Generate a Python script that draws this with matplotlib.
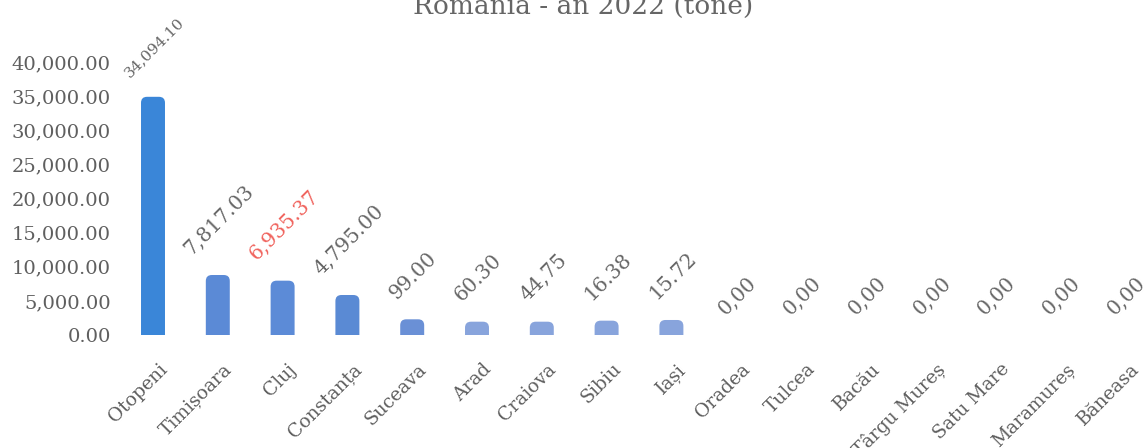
import matplotlib
matplotlib.use('Agg')
import matplotlib.pyplot as plt
from matplotlib.patches import FancyBboxPatch
from matplotlib.ticker import FuncFormatter
import matplotlib.transforms as mtrans

# data
airports = ['Otopeni', 'Timișoara', 'Cluj', 'Constanța', 'Suceava', 'Arad', 'Craiova',
            'Sibiu', 'Iași', 'Oradea', 'Tulcea', 'Bacău', 'Târgu Mureș', 'Satu Mare',
            'Maramureș', 'Băneasa']
# label values as printed on the chart
label_text = ['34,094.10', '7,817.03', '6,935.37', '4,795.00', '99.00', '60.30', '44,75',
              '16.38', '15.72', '0,00', '0,00', '0,00', '0,00', '0,00', '0,00', '0,00']
# bar heights as drawn in the picture (tone)
bar_heights = [34900, 8790, 7960, 5860, 2300, 1950, 1950, 2100, 2200, 0, 0, 0, 0, 0, 0, 0]
bar_colors = ['#3a86d8', '#5b8ad6', '#5c8bd7', '#5a8ad4', '#6a90d6', '#88a4dc', '#88a4dc',
              '#88a4dc', '#88a4dc', '#88a4dc', '#88a4dc', '#88a4dc', '#88a4dc', '#88a4dc',
              '#88a4dc', '#88a4dc']
label_colors = ['#666666'] * 16
label_colors[2] = '#f0625c'
label_sizes = [11] + [14.5] * 15
yticks = [0, 5000, 10000, 15000, 20000, 25000, 30000, 35000, 40000]

W, H = 1144, 448
fig = plt.figure(figsize=(W / 100, H / 100), dpi=100)
fig.patch.set_facecolor('white')
ax = fig.add_axes([120.6 / W, (H - 335) / H, (W - 120.6) / W, 273 / H])

x = list(range(len(airports)))
bw = 0.37
bars = ax.bar(x, bar_heights, width=bw, color=bar_colors)

# rounded bar tops (bottom part clipped at the axis)
px_x = 64.8          # pixels per category unit
px_y = 273 / 40000   # pixels per tonne
r_px = 6
aspect = px_x / px_y
for b, c in zip(bars, bar_colors):
    h = b.get_height()
    if h <= 0:
        continue
    b.set_visible(False)
    p = FancyBboxPatch((b.get_x(), -2000), b.get_width(), h + 2000,
                       boxstyle='round,pad=0,rounding_size=%f' % (r_px / px_x),
                       mutation_aspect=aspect, facecolor=c, edgecolor='none')
    ax.add_patch(p)

ax.set_xlim(-0.5, -0.5 + (W - 120.6) / px_x)
ax.set_ylim(0, 40000)
ax.set_yticks(yticks)
ax.yaxis.set_major_formatter(FuncFormatter(lambda v, p: '{:,.2f}'.format(v)))

for s in ax.spines.values():
    s.set_visible(False)
ax.tick_params(axis='y', length=0, pad=7, labelsize=14, labelcolor='#5f5f5f')
ax.tick_params(axis='x', length=0, pad=18, labelsize=13.5, labelcolor='#5f5f5f')
for lab in ax.get_yticklabels():
    lab.set_family('DejaVu Serif')

ax.set_xticks(x)
ax.set_xticklabels(airports, rotation=45, ha='right', va='top', rotation_mode='anchor',
                   family='DejaVu Serif')
off = mtrans.ScaledTranslation(5 / 100, 0, fig.dpi_scale_trans)
for lab in ax.get_xticklabels():
    lab.set_transform(lab.get_transform() + off)

for xi, h, t, c, fs in zip(x, bar_heights, label_text, label_colors, label_sizes):
    ax.annotate(t, (xi, h), xytext=(1, 12), textcoords='offset points',
                ha='center', va='bottom', rotation=45, fontsize=fs,
                color=c, family='DejaVu Serif', annotation_clip=False)

fig.text(583 / W, 1 - 15 / H, 'Romania - an 2022 (tone)', ha='center', va='baseline',
         fontsize=19, color='#666666', family='DejaVu Serif')

fig.savefig('out.png', dpi=100, facecolor='white')
plt.close(fig)
